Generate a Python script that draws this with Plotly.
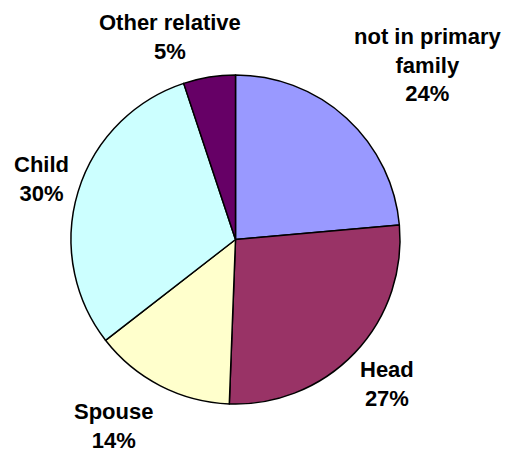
import plotly.graph_objects as go

categories = ["not in primary family", "Head", "Spouse", "Child", "Other relative"]
label_lines = ["not in primary<br>family", "Head", "Spouse", "Child", "Other relative"]
values = [23.6, 27.0, 13.9, 30.4, 5.1]
colors = ["#9999FF", "#993366", "#FFFFCC", "#CCFFFF", "#660066"]

# label block centres in pixels (x, y from top)
label_px = [(427, 65), (387, 384), (113, 426), (41, 179), (170, 37)]

W, H = 508, 453
cx, cy, r = 235.5, 239.5, 164.5

fig = go.Figure(go.Pie(
    labels=categories,
    values=values,
    sort=False,
    direction="clockwise",
    rotation=0,
    marker=dict(colors=colors, line=dict(color="black", width=1.5)),
    textinfo="none",
    hoverinfo="label+percent",
    domain=dict(x=[(cx - r) / W, (cx + r) / W], y=[1 - (cy + r) / H, 1 - (cy - r) / H]),
    showlegend=False,
))

total = sum(values)
for lab, v, (px, py) in zip(label_lines, values, label_px):
    fig.add_annotation(
        text=f"{lab}<br>{round(v / total * 100)}%",
        x=px / W, y=1 - py / H, xref="paper", yref="paper",
        xanchor="center", yanchor="middle", showarrow=False,
        align="center",
        font=dict(family="Liberation Sans, Arial", size=22, color="black", weight="bold"),
    )

fig.update_layout(
    width=W, height=H,
    margin=dict(l=0, r=0, t=0, b=0),
    paper_bgcolor="white", plot_bgcolor="white",
)
fig.write_html(
    "out.html",
    config={"displayModeBar": False},
    post_script="document.body.style.margin='0';document.body.style.overflow='hidden';",
)
